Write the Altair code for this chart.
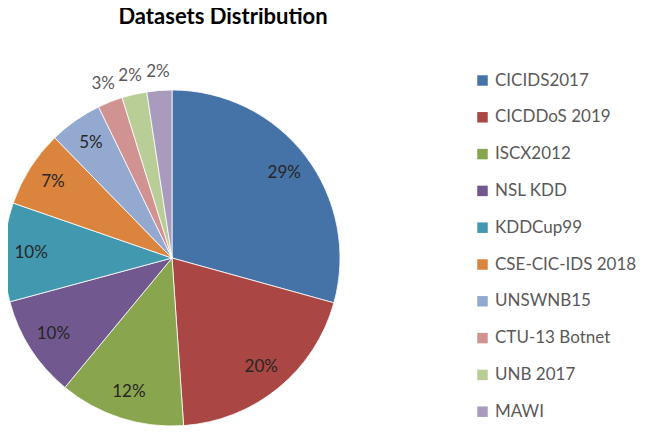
import altair as alt
import pandas as pd

title_text = "Datasets Distribution"
categories = ["CICIDS2017", "CICDDoS 2019", "ISCX2012", "NSL KDD", "KDDCup99",
              "CSE-CIC-IDS 2018", "UNSWNB15", "CTU-13 Botnet", "UNB 2017", "MAWI"]
values = [29.3, 19.6, 12.1, 9.8, 9.5, 7.4, 5.1, 2.4, 2.4, 2.4]
labels = ["29%", "20%", "12%", "10%", "10%", "7%", "5%", "3%", "2%", "2%"]
outside = [False, False, False, False, False, False, False, True, True, True]
colors = ["#4572A7", "#AA4643", "#89A54E", "#71588F", "#4198AF",
          "#DB843D", "#93A9CF", "#D19392", "#B9CD96", "#A99BBD"]

df = pd.DataFrame({
    "cat": categories,
    "val": values,
    "idx": list(range(len(categories))),
    "inner": [("" if o else l) for l, o in zip(labels, outside)],
    "outer": [(l if o else "") for l, o in zip(labels, outside)],
})

FONT = "Lato"

theta = alt.Theta("val:Q", stack=True)
order = alt.Order("idx:O")

color = alt.Color(
    "cat:N",
    scale=alt.Scale(domain=categories, range=colors),
    sort=categories,
    legend=alt.Legend(
        title=None, orient="none", legendX=466, legendY=-22,
        symbolType="square", symbolSize=110, symbolStrokeWidth=0,
        labelFont=FONT, labelFontSize=17, labelColor="#595959",
        rowPadding=18.8, labelOffset=4, labelLimit=200,
    ),
)

base = alt.Chart(df)

arcs = base.mark_arc(radius=168, stroke="white", strokeWidth=0.8).encode(
    theta=theta, order=order, color=color
)

inner_text = base.mark_text(radius=141, font=FONT, fontSize=17, color="#262626").encode(
    theta=theta, order=order, text="inner:N"
)

outer_text = base.mark_text(radius=187, font=FONT, fontSize=17, color="#595959").encode(
    theta=theta, order=order, text="outer:N"
)

title = alt.Chart(pd.DataFrame({"t": [title_text]})).mark_text(
    font=FONT, fontSize=22, fontWeight="bold", color="#000000",
    align="center", baseline="alphabetic",
).encode(text="t:N", x=alt.value(215), y=alt.value(-70))

chart = alt.layer(arcs, inner_text, outer_text, title).properties(
    width=328,
    height=328,
    background="white",
    autosize=alt.AutoSizeParams(type="none"),
    padding={"left": 0, "top": 86, "right": 302, "bottom": 17},
).configure_view(strokeWidth=0, stroke="transparent")

chart.save("out.html", embed_options={"renderer": "svg", "actions": False})
